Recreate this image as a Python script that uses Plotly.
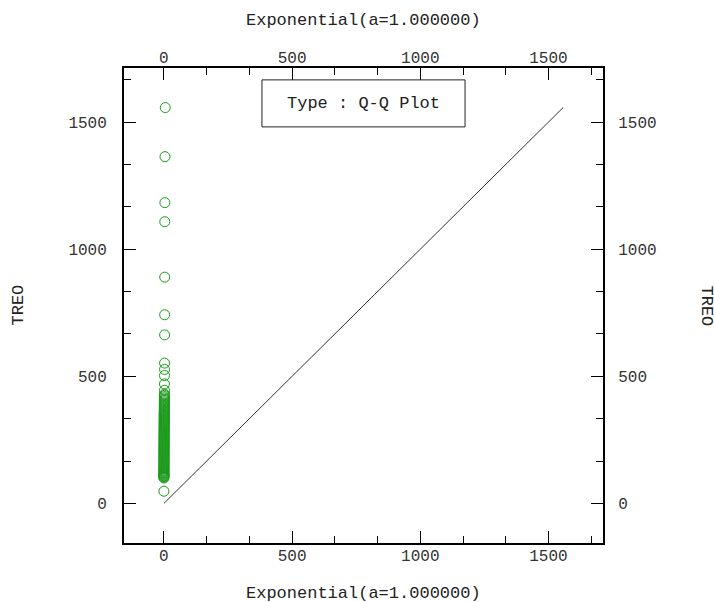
import plotly.graph_objects as go

# theoretical exponential quantiles (a=1) and sample values (TREO)
theo_q = [0.005, 0.016, 0.026, 0.037, 0.048, 0.059, 0.070, 0.081, 0.093, 0.104,
          0.116, 0.128, 0.140, 0.152, 0.164, 0.176, 0.189, 0.201, 0.214, 0.227,
          0.240, 0.253, 0.267, 0.280, 0.294, 0.308, 0.322, 0.337, 0.352, 0.367,
          0.382, 0.398, 0.414, 0.430, 0.446, 0.463, 0.480, 0.497, 0.514, 0.530,
          0.549, 0.567, 0.586, 0.605, 0.625, 0.645, 0.665, 0.686, 0.707, 0.725,
          0.750, 0.773, 0.796, 0.820, 0.844, 0.866, 0.889, 0.913, 0.940, 0.967,
          0.996, 1.026, 1.057, 1.089, 1.122, 1.156, 1.191, 1.228, 1.266, 1.290,
          1.33, 1.37, 1.41, 1.46, 1.51, 1.55, 1.60, 1.65, 1.71, 1.76,
          1.82, 1.89, 1.95, 2.03, 2.10, 2.17, 2.28, 2.42, 2.55, 2.69,
          2.86, 3.06, 3.31, 3.65, 4.16, 5.26]
treo = [48,
        100, 103, 106, 109, 112, 115, 118, 121, 124, 127, 130,
        134, 138, 142, 146, 150, 154, 158, 162, 166, 170, 174, 178, 182, 186, 190,
        194, 198, 202, 206, 210, 214, 218, 222, 226, 230, 234, 238, 242, 246, 250,
        254, 258, 262, 266, 270, 274, 278, 282, 286, 290, 294, 298, 302, 306, 310,
        314, 318, 322, 326, 330, 334, 338, 342, 346, 350, 354, 358, 362, 366, 370,
        375, 380, 385, 390, 395, 400, 405, 410, 415, 420, 425, 430,
        445, 470, 503, 527, 552, 663, 742, 890, 1108, 1183, 1364, 1557]

ref_line_x = [0, 1557]
ref_line_y = [0, 1557]

tick_vals = [0, 500, 1000, 1500]
tick_text = ["0", "500", "1000", "1500"]

x_title = "Exponential(a=1.000000)"
y_title = "TREO"
box_text = "Type : Q-Q Plot"

vmax = max(treo)
rng = [-0.1 * vmax, 1.1 * vmax]

FONT = "Courier New, Liberation Mono, monospace"
tickfont = dict(family=FONT, size=16, color="#333333")

fig = go.Figure()
fig.add_trace(go.Scatter(x=ref_line_x, y=ref_line_y, mode="lines",
                         line=dict(color="#333333", width=1), showlegend=False,
                         hoverinfo="skip"))
fig.add_trace(go.Scatter(x=theo_q, y=treo, mode="markers",
                         marker=dict(symbol="circle-open", size=10,
                                     color="#1a9a1a", line=dict(width=1, color="#1a9a1a")),
                         showlegend=False))
# invisible trace so the mirrored axes are drawn
fig.add_trace(go.Scatter(x=ref_line_x, y=ref_line_y, mode="lines", xaxis="x2", yaxis="y2",
                         line=dict(width=0, color="rgba(0,0,0,0)"), showlegend=False,
                         hoverinfo="skip"))

minor = dict(ticks="inside", ticklen=7, tickwidth=1, tickcolor="black",
             tick0=0, dtick=500 / 3, showgrid=False)

def axis(**kw):
    d = dict(range=rng, tickvals=tick_vals, ticktext=tick_text, ticks="inside",
             ticklen=12, tickwidth=1, tickcolor="black", showline=True, linewidth=2,
             linecolor="black", showgrid=False, zeroline=False, tickfont=tickfont,
             minor=minor, fixedrange=True)
    d.update(kw)
    return d

fig.update_layout(
    width=714, height=602,
    margin=dict(l=124, r=111, t=68, b=59),
    paper_bgcolor="white", plot_bgcolor="white",
    xaxis=axis(ticklabelstandoff=-3),
    xaxis2=axis(overlaying="x", side="top", anchor="y", ticklabelstandoff=-3),
    yaxis=axis(ticklabelstandoff=12),
    yaxis2=axis(overlaying="y", side="right", anchor="x", ticklabelstandoff=10),
)

fig.add_shape(type="rect", xref="paper", yref="paper", x0=0.288, x1=0.712,
              y0=0.876, y1=0.975, line=dict(color="#222222", width=1),
              fillcolor="white", layer="above")

annots = [
    dict(text=box_text, xref="paper", yref="paper", x=0.5, y=0.9255,
         xanchor="center", yanchor="middle", font=dict(family=FONT, size=17, color="#222222")),
    dict(text=x_title, xref="paper", yref="paper", x=0.5, y=(543 - 21) / 475,
         xanchor="center", yanchor="middle", font=dict(family=FONT, size=17, color="#222222")),
    dict(text=x_title, xref="paper", yref="paper", x=0.5, y=(543 - 593) / 475,
         xanchor="center", yanchor="middle", font=dict(family=FONT, size=17, color="#222222")),
    dict(text=y_title, xref="paper", yref="paper", x=(18 - 124) / 479, y=0.5,
         xanchor="center", yanchor="middle", textangle=-90,
         font=dict(family=FONT, size=17, color="#222222")),
    dict(text=y_title, xref="paper", yref="paper", x=(706 - 124) / 479, y=0.5,
         xanchor="center", yanchor="middle", textangle=90,
         font=dict(family=FONT, size=17, color="#222222")),
]
for a in annots:
    a["showarrow"] = False
    fig.add_annotation(**a)

fig.write_html("out.html")
